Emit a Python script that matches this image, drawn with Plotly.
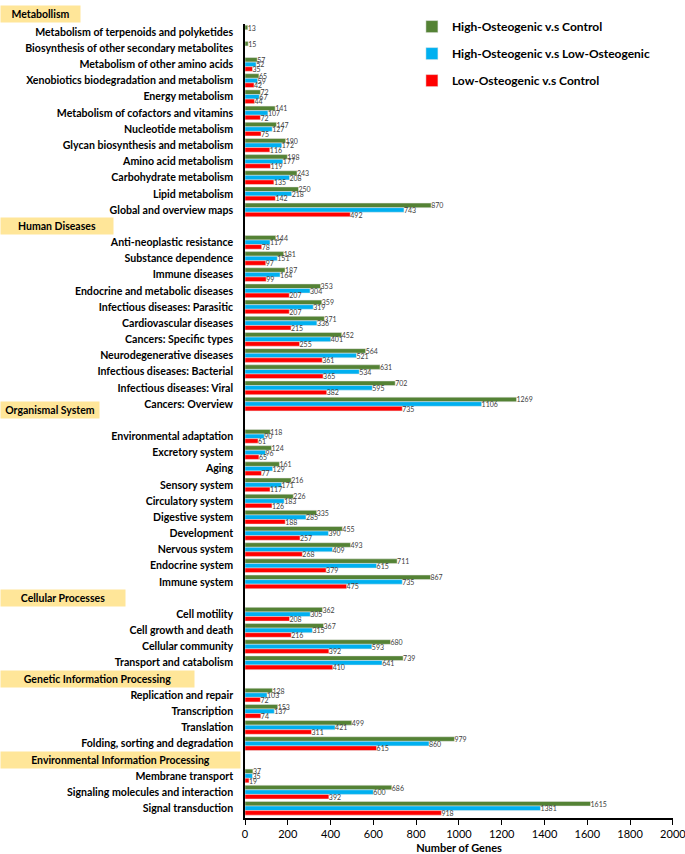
import plotly.graph_objects as go

# ---------------- data ----------------
group_names = ["Metabollism", "Human Diseases", "Organismal System",
               "Cellular Processes", "Genetic Information Processing",
               "Environmental Information Processing"]

metabolism_cats = ["Metabolism of terpenoids and polyketides",
                   "Biosynthesis of other secondary metabolites",
                   "Metabolism of other amino acids",
                   "Xenobiotics biodegradation and metabolism",
                   "Energy metabolism",
                   "Metabolism of cofactors and vitamins",
                   "Nucleotide metabolism",
                   "Glycan biosynthesis and metabolism",
                   "Amino acid metabolism",
                   "Carbohydrate metabolism",
                   "Lipid metabolism",
                   "Global and overview maps"]
metabolism_hc = [13, 15, 57, 65, 72, 141, 147, 190, 198, 243, 250, 870]
metabolism_hl = [None, None, 52, 59, 67, 107, 127, 172, 177, 208, 218, 743]
metabolism_lc = [None, None, 35, 42, 44, 72, 75, 116, 119, 135, 142, 492]

disease_cats = ["Anti-neoplastic resistance", "Substance dependence",
                "Immune diseases", "Endocrine and metabolic diseases",
                "Infectious diseases: Parasitic", "Cardiovascular diseases",
                "Cancers: Specific types", "Neurodegenerative diseases",
                "Infectious diseases: Bacterial", "Infectious diseases: Viral",
                "Cancers: Overview"]
disease_hc = [144, 181, 187, 353, 359, 371, 452, 564, 631, 702, 1269]
disease_hl = [117, 151, 164, 304, 319, 336, 401, 521, 534, 595, 1106]
disease_lc = [78, 97, 99, 207, 207, 215, 255, 361, 365, 382, 735]

organismal_cats = ["Environmental adaptation", "Excretory system", "Aging",
                   "Sensory system", "Circulatory system", "Digestive system",
                   "Development", "Nervous system", "Endocrine system",
                   "Immune system"]
organismal_hc = [118, 124, 161, 216, 226, 335, 455, 493, 711, 867]
organismal_hl = [90, 96, 129, 171, 183, 285, 390, 409, 615, 735]
organismal_lc = [61, 65, 77, 117, 126, 188, 257, 268, 379, 475]

cellular_cats = ["Cell motility", "Cell growth and death",
                 "Cellular community", "Transport and catabolism"]
cellular_hc = [362, 367, 680, 739]
cellular_hl = [305, 315, 593, 641]
cellular_lc = [208, 216, 392, 410]

genetic_cats = ["Replication and repair", "Transcription", "Translation",
                "Folding, sorting and degradation"]
genetic_hc = [128, 153, 499, 979]
genetic_hl = [103, 137, 421, 860]
genetic_lc = [72, 74, 311, 615]

environ_cats = ["Membrane transport", "Signaling molecules and interaction",
                "Signal transduction"]
environ_hc = [37, 686, 1615]
environ_hl = [35, 600, 1381]
environ_lc = [19, 392, 918]

series_names = ["High-Osteogenic v.s Control",
                "High-Osteogenic v.s Low-Osteogenic",
                "Low-Osteogenic v.s Control"]
series_colors = ["#548235", "#00B0F0", "#FF0000"]

groups = [
    (metabolism_cats, metabolism_hc, metabolism_hl, metabolism_lc),
    (disease_cats, disease_hc, disease_hl, disease_lc),
    (organismal_cats, organismal_hc, organismal_hl, organismal_lc),
    (cellular_cats, cellular_hc, cellular_hl, cellular_lc),
    (genetic_cats, genetic_hc, genetic_hl, genetic_lc),
    (environ_cats, environ_hc, environ_hl, environ_lc),
]

# header box widths (px)
header_widths = [75, 108, 94, 120, 189, 235]

# ---------------- build rows (one blank row between groups) ----------------
ypos, labels = [], []
vals = [[], [], []]
header_pos = []
row = 0
for gi, (cats, hc, hl, lc) in enumerate(groups):
    if gi == 0:
        header_pos.append(None)
    else:
        header_pos.append(row)
        row += 1
    for i, c in enumerate(cats):
        ypos.append(row)
        labels.append(c)
        vals[0].append(hc[i])
        vals[1].append(hl[i])
        vals[2].append(lc[i])
        row += 1
n_rows = row

FONT = "Lato"

fig = go.Figure()
for k in range(3):
    fig.add_trace(go.Bar(
        y=ypos, x=vals[k], orientation="h", name="<b>" + series_names[k] + "</b>",
        marker=dict(color=series_colors[k], line=dict(color="#e6e6e6", width=0.5)),
        text=[("" if v is None else str(v)) for v in vals[k]],
        textposition="outside", constraintext="none", cliponaxis=False,
        textfont=dict(size=7, color="#404040", family=FONT),
        legendgroup=str(k),
    ))

for gi, name in enumerate(group_names):
    if header_pos[gi] is None:
        yref, yv, ys = "paper", 1.0, 10
    else:
        yref, yv, ys = "y", header_pos[gi], (10 if gi == 2 else 0)
    fig.add_annotation(
        x=0, xref="paper", xshift=-245, xanchor="left",
        y=yv, yref=yref, yanchor="middle", yshift=ys,
        text="<b>" + name + "</b>", showarrow=False,
        width=header_widths[gi], align="center",
        font=dict(size=10.5, color="black", family=FONT),
        bgcolor="#FFE699", borderpad=2,
    )

fig.update_layout(
    width=685, height=854,
    margin=dict(l=245, r=12, t=17, b=36),
    plot_bgcolor="white", paper_bgcolor="white",
    barmode="group", bargap=0.15, bargroupgap=0,
    font=dict(family=FONT, color="black"),
    showlegend=True,
    legend=dict(x=0.39, y=1.015, xanchor="left", yanchor="top",
                font=dict(size=12, color="black", family=FONT),
                tracegroupgap=8, bgcolor="rgba(0,0,0,0)"),
)
fig.update_xaxes(range=[0, 2000.5], tickvals=list(range(0, 2001, 200)),
                 showline=True, linecolor="black",
                 linewidth=1.5, ticks="outside", ticklen=5, tickcolor="black",
                 showgrid=False, zeroline=False, automargin=False,
                 ticklabeloverflow="allow",
                 tickfont=dict(size=11, family=FONT, color="black"),
                 tickprefix="<b>", ticksuffix="</b>",
                 title=dict(text="<b>Number of Genes</b>", standoff=6,
                            font=dict(size=11, family=FONT, color="black")))
fig.update_yaxes(range=[n_rows - 0.4, -0.5], tickmode="array", tickvals=ypos,
                 ticktext=["<b>" + l + "</b>" for l in labels],
                 showline=True, linecolor="black", linewidth=1.5,
                 ticks="", showgrid=False, zeroline=False, ticklabelstandoff=8,
                 automargin=False,
                 tickfont=dict(size=10.6, family=FONT, color="black"))

fig.write_html("out.html", config={"displayModeBar": False},
               post_script="document.body.style.margin='0';document.body.style.overflow='hidden';")
